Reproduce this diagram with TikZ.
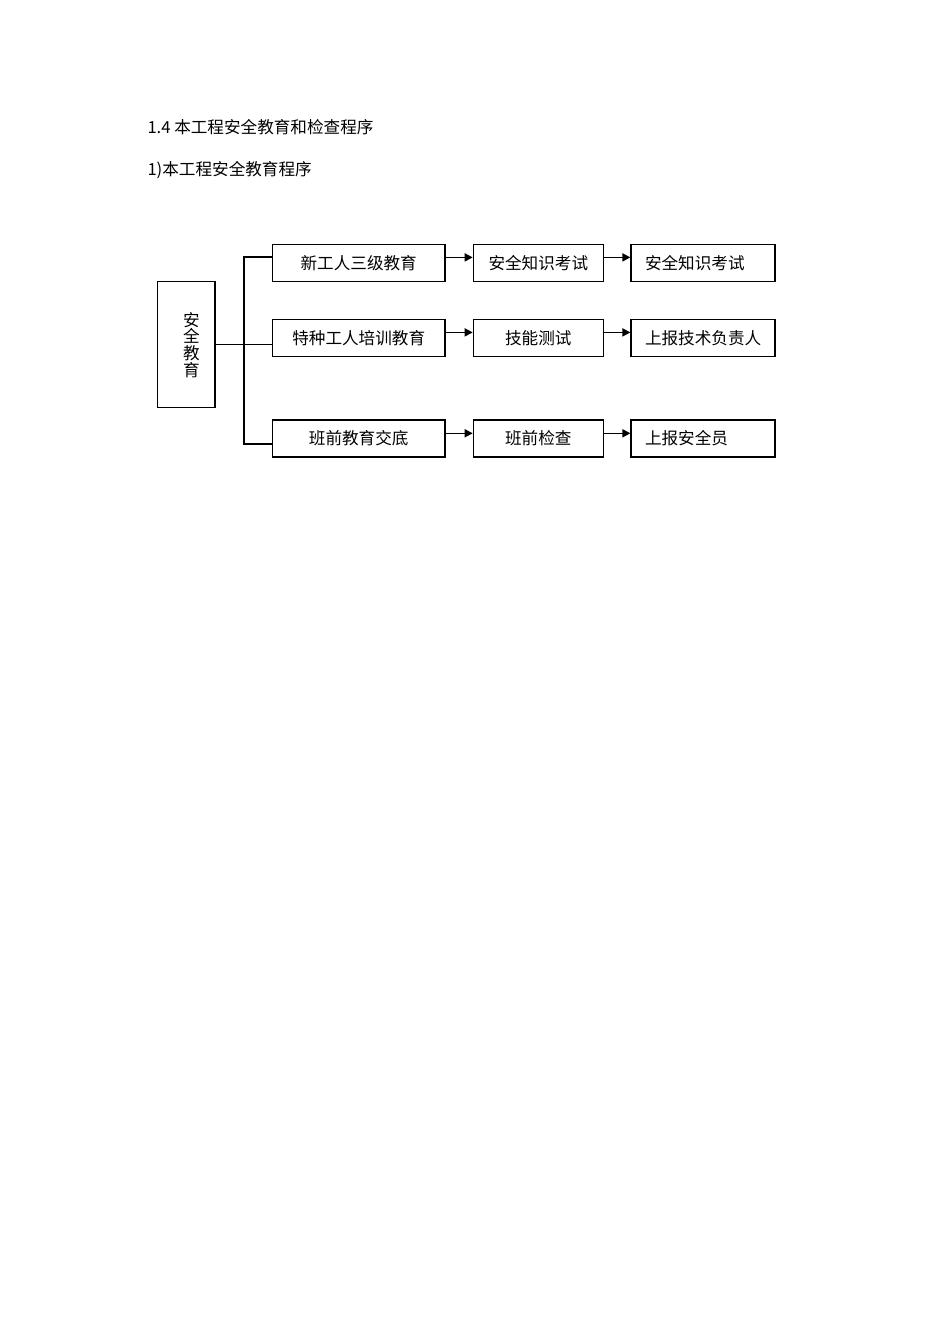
\documentclass[tikz,border=0pt]{standalone}
\usepackage{fontspec}
\setmainfont{Noto Sans CJK SC}
\usetikzlibrary{arrows.meta}

\begin{document}
\begin{tikzpicture}[x=1pt, y=-1pt,
    box/.style={draw, line width=1.2pt, minimum height=37pt, inner sep=0pt},
    arr/.style={-{Triangle[length=8pt, width=8pt]}, line width=1.6pt},
    every node/.style={font=\fontsize{16.6}{16.7}\selectfont}]
    \fill [white] (0,0) rectangle (950,1344);
    \useasboundingbox (0,0) rectangle (950,1344);
    \node [anchor=west] (title) at (144,127) {1.4 本工程安全教育和检查程序};
    \node [anchor=west] (sub) at (144,170) {1)本工程安全教育程序};
    % left box
    \node [box, minimum width=57.7pt, minimum height=125.6pt] (left) at (186.2,344.5) {};
    \node [align=center] (lefttxt) at (191.5,345) {安\\全\\教\\育};
    % first column
    \node [box, minimum width=172.7pt] (c1r1) at (358.7,263) {新工人三级教育};
    \node [box, minimum width=172.7pt] (c1r2) at (358.7,338) {特种工人培训教育};
    \node [box, minimum width=172.7pt] (c1r3) at (358.7,438.5) {班前教育交底};
    % second column
    \node [box, minimum width=130pt] (c2r1) at (538.3,263) {安全知识考试};
    \node [box, minimum width=130pt] (c2r2) at (538.3,338) {技能测试};
    \node [box, minimum width=130pt] (c2r3) at (538.3,438.5) {班前检查};
    % third column
    \node [box, minimum width=144pt, text width=116pt, align=left] (c3r1) at (703,263) {安全知识考试};
    \node [box, minimum width=144pt, text width=116pt, align=left] (c3r2) at (703,338) {上报技术负责人};
    \node [box, minimum width=144pt, text width=116pt, align=left] (c3r3) at (703,438.5) {上报安全员};
    % branches
    \draw [line width=1.2pt] ([yshift=6pt]c1r1.west) -| ([xshift=28.3pt]left.east) |- ([yshift=-5.5pt]c1r3.west);
    \draw [line width=1.2pt] (left.east) -- (left.east -| c1r2.west);
    \draw [arr] ([yshift=5.6pt]c1r1.east) -- ([yshift=5.6pt]c2r1.west);
    \draw [arr] ([yshift=5.6pt]c1r2.east) -- ([yshift=5.6pt]c2r2.west);
    \draw [arr] ([yshift=5.2pt]c1r3.east) -- ([yshift=5.2pt]c2r3.west);
    \draw [arr] ([yshift=5.6pt]c2r1.east) -- ([yshift=5.6pt]c3r1.west);
    \draw [arr] ([yshift=5.6pt]c2r2.east) -- ([yshift=5.6pt]c3r2.west);
    \draw [arr] ([yshift=5.2pt]c2r3.east) -- ([yshift=5.2pt]c3r3.west);
\end{tikzpicture}
\end{document}
